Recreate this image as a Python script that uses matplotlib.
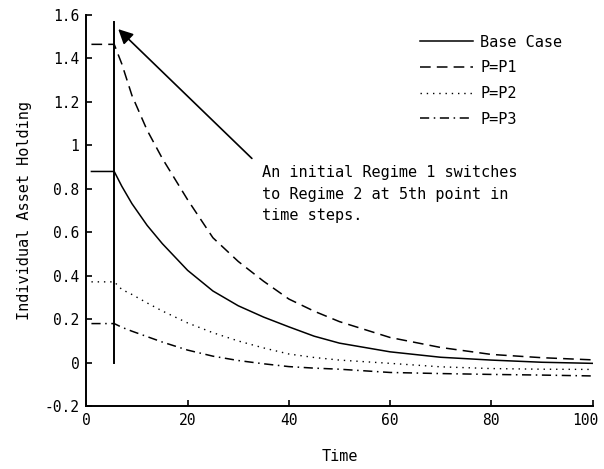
import matplotlib
matplotlib.use("Agg")
import matplotlib.pyplot as plt
from matplotlib.transforms import ScaledTranslation

plt.rcParams['font.family'] = ['DejaVu Sans Mono']
plt.rcParams['font.size'] = 11

# values
time = [1, 5.5, 7, 9, 12, 15, 20, 25, 30, 35, 40, 45, 50, 60, 70, 80, 90, 100]
base_case = [0.88, 0.88, 0.812, 0.732, 0.632, 0.548, 0.425, 0.33, 0.262, 0.21, 0.165,
             0.122, 0.09, 0.05, 0.025, 0.012, 0.002, -0.003]
p1 = [1.465, 1.465, 1.375, 1.23, 1.07, 0.94, 0.75, 0.575, 0.466, 0.375, 0.293,
      0.237, 0.189, 0.116, 0.07, 0.038, 0.023, 0.013]
p2 = [0.372, 0.372, 0.337, 0.314, 0.275, 0.238, 0.183, 0.138, 0.1, 0.068, 0.04,
      0.024, 0.012, -0.003, -0.019, -0.027, -0.03, -0.031]
p3 = [0.18, 0.18, 0.163, 0.145, 0.12, 0.095, 0.058, 0.03, 0.01, -0.005, -0.018,
      -0.025, -0.03, -0.045, -0.05, -0.054, -0.057, -0.061]

switch_time = 5.5
switch_line = [0, 1.57]

fig = plt.figure(figsize=(6.04, 4.69), dpi=100)
ax = fig.add_axes([0.143, 0.134, 0.838, 0.834])

ax.plot(time, base_case, color='k', lw=1.1, linestyle='-', label='Base Case')
ax.plot(time, p1, color='k', lw=1.1, linestyle=(0, (7, 4)), label='P=P1')
ax.plot(time, p2, color='k', lw=1.0, linestyle=(0, (1, 3.5)), label='P=P2')
ax.plot(time, p3, color='k', lw=1.1, linestyle=(0, (6, 3, 1, 3)), label='P=P3')

ax.plot([switch_time, switch_time], switch_line, color='k', lw=1.4)

ax.annotate('', xy=(6.3, 1.535), xytext=(32.7, 0.94),
            arrowprops=dict(arrowstyle='-|>', color='k', lw=1.2,
                            mutation_scale=22, shrinkA=0, shrinkB=0))
ax.text(34.6, 0.776, 'An initial Regime 1 switches\nto Regime 2 at 5th point in\ntime steps.',
        ha='left', va='center', linespacing=1.55)

ax.set_xlim(0, 100)
ax.set_ylim(-0.2, 1.6)
ax.set_xticks([0, 20, 40, 60, 80, 100])
ax.set_yticks([-0.2, 0, 0.2, 0.4, 0.6, 0.8, 1, 1.2, 1.4, 1.6])
ax.set_yticklabels(['-0.2', '0', '0.2', '0.4', '0.6', '0.8', '1', '1.2', '1.4', '1.6'])

ax.spines['top'].set_visible(False)
ax.spines['right'].set_visible(False)
ax.spines['left'].set_linewidth(1.4)
ax.spines['bottom'].set_linewidth(1.4)
ax.tick_params(direction='in', length=4, width=1.2, pad=5, labelsize=10.5)

# last x label sits a little left so it stays inside the figure
last = ax.get_xticklabels()[-1]
last.set_transform(last.get_transform() + ScaledTranslation(-7 / 100, 0, fig.dpi_scale_trans))

ax.set_xlabel('Time', labelpad=15)
ax.set_ylabel('Individual Asset Holding', labelpad=9)

leg = ax.legend(loc='upper left', bbox_to_anchor=(0.659, 0.95), frameon=False,
                handlelength=3.5, handletextpad=0.45, labelspacing=0.7,
                borderpad=0, borderaxespad=0)

plt.savefig('out.png')
plt.close()
